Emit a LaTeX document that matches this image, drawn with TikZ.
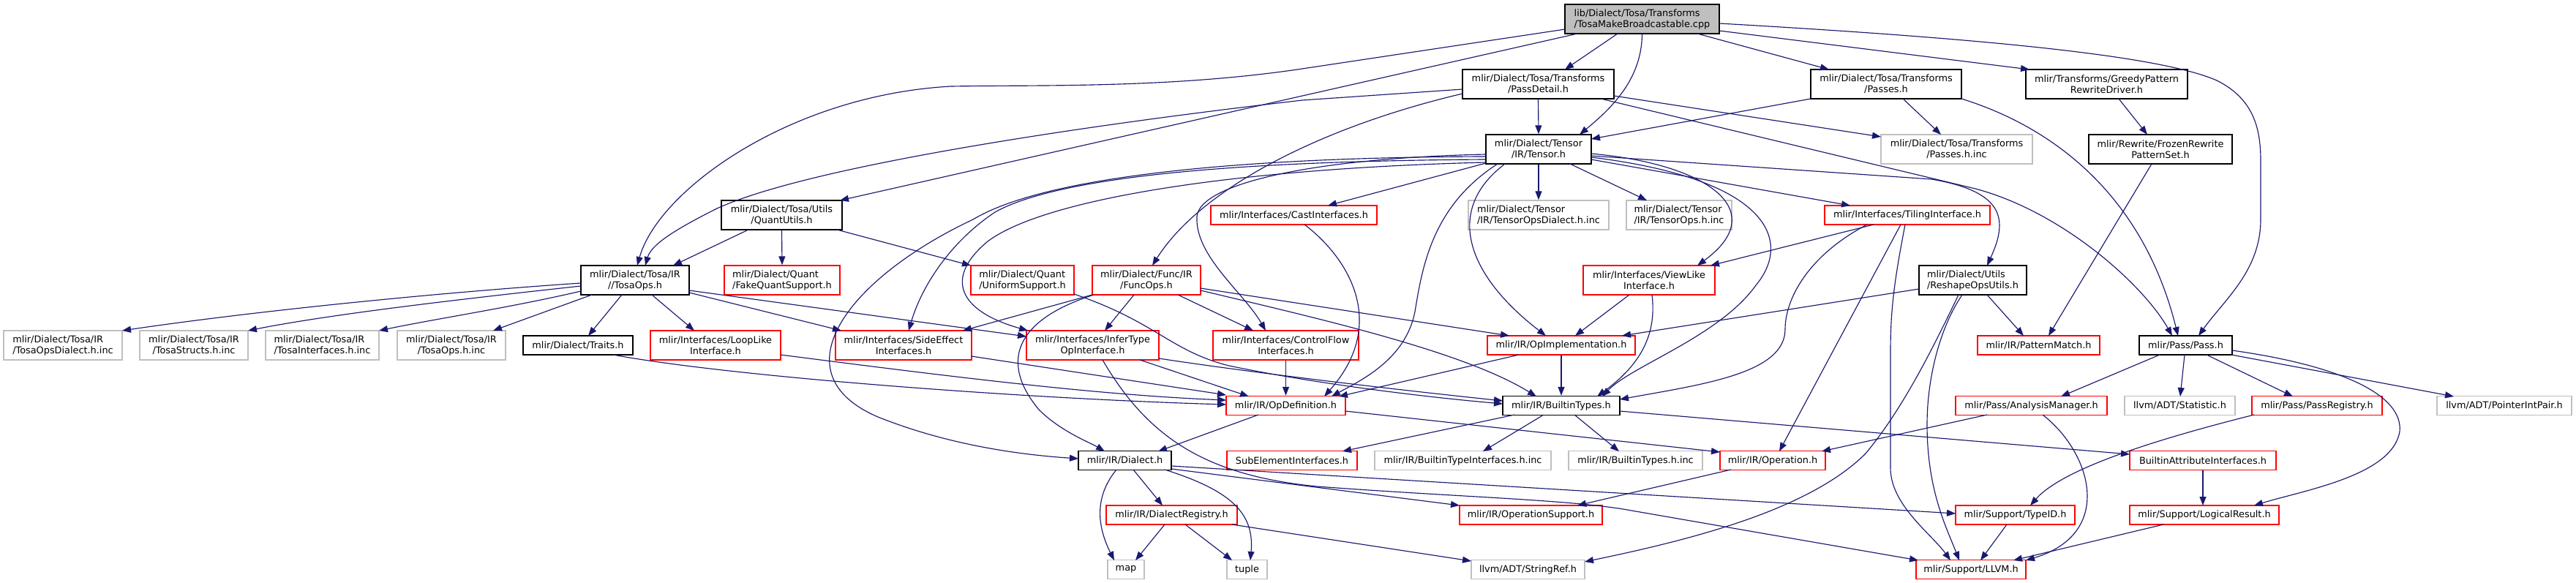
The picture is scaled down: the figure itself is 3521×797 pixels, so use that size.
\documentclass[tikz,border=0pt]{standalone}
\usepackage{fontspec}
\usetikzlibrary{arrows.meta,calc}
\newfontfamily\dfont{DejaVu Sans}
\definecolor{edgec}{HTML}{191970}
\definecolor{gbord}{HTML}{BFBFBF}
\definecolor{rbord}{HTML}{FF0000}
\tikzset{
  nd/.style={draw, line width=1.4pt, inner sep=0pt, minimum height=26pt, align=center,
    font={\dfont\fontsize{12.85pt}{15pt}\selectfont}},
  two/.style={minimum height=40pt},
  bn/.style={nd, draw=black},
  rn/.style={nd, draw=rbord},
  gn/.style={nd, draw=gbord},
  edg/.style={draw=edgec, line width=1.15pt, -{Triangle[length=12pt,width=9pt]}}
}
\begin{document}
\begin{tikzpicture}[x=1pt,y=-1pt]
\useasboundingbox (0,0) rectangle (3521,797);
% ---------- nodes ----------
\node[bn,two,fill=gbord,minimum width=211pt,align=left] (tmb) at (2244.5,26) {lib/Dialect/Tosa/Transforms\\/TosaMakeBroadcastable.cpp};
\node[bn,two,minimum width=207pt] (pdet) at (2102.5,115) {mlir/Dialect/Tosa/Transforms\\/PassDetail.h};
\node[bn,two,minimum width=206pt] (passes) at (2578,115) {mlir/Dialect/Tosa/Transforms\\/Passes.h};
\node[bn,two,minimum width=221pt] (greedy) at (2879.5,115) {mlir/Transforms/GreedyPattern\\RewriteDriver.h};
\node[bn,two,minimum width=144pt] (tensor) at (2103,204) {mlir/Dialect/Tensor\\/IR/Tensor.h};
\node[gn,two,minimum width=207pt] (passinc) at (2674.5,204) {mlir/Dialect/Tosa/Transforms\\/Passes.h.inc};
\node[bn,two,minimum width=196pt] (frozen) at (2953,204) {mlir/Rewrite/FrozenRewrite\\PatternSet.h};
\node[bn,two,minimum width=165pt] (quantutils) at (1068.5,294) {mlir/Dialect/Tosa/Utils\\/QuantUtils.h};
\node[rn,minimum width=227pt] (cast) at (1768.5,294) {mlir/Interfaces/CastInterfaces.h};
\node[gn,two,minimum width=192pt,align=left] (tdialinc) at (2103,294) {mlir/Dialect/Tensor\\/IR/TensorOpsDialect.h.inc};
\node[gn,two,minimum width=144pt,align=left] (topsinc) at (2295,294) {mlir/Dialect/Tensor\\/IR/TensorOps.h.inc};
\node[rn,minimum width=226pt] (tiling) at (2607,294) {mlir/Interfaces/TilingInterface.h};
\node[bn,two,minimum width=148pt] (tosaops) at (868,383) {mlir/Dialect/Tosa/IR\\//TosaOps.h};
\node[rn,two,minimum width=158pt,align=left] (fake) at (1069,383) {mlir/Dialect/Quant\\/FakeQuantSupport.h};
\node[rn,two,minimum width=141pt,align=left] (uniform) at (1397.5,383) {mlir/Dialect/Quant\\/UniformSupport.h};
\node[rn,two,minimum width=148pt] (funcops) at (1567,383) {mlir/Dialect/Func/IR\\/FuncOps.h};
\node[rn,two,minimum width=180pt] (viewlike) at (2254,383) {mlir/Interfaces/ViewLike\\Interface.h};
\node[bn,two,minimum width=147pt,align=left] (reshape) at (2696.5,383) {mlir/Dialect/Utils\\/ReshapeOpsUtils.h};
\node[gn,two,minimum width=162pt,align=left] (tdinc) at (86,472) {mlir/Dialect/Tosa/IR\\/TosaOpsDialect.h.inc};
\node[gn,two,minimum width=148pt] (tsinc) at (265,472) {mlir/Dialect/Tosa/IR\\/TosaStructs.h.inc};
\node[gn,two,minimum width=155pt,align=left] (tiinc) at (440.5,472) {mlir/Dialect/Tosa/IR\\/TosaInterfaces.h.inc};
\node[gn,two,minimum width=148pt] (toinc) at (617,472) {mlir/Dialect/Tosa/IR\\/TosaOps.h.inc};
\node[bn,minimum width=150pt] (traits) at (790,472) {mlir/Dialect/Traits.h};
\node[rn,two,minimum width=178pt] (looplike) at (978,472) {mlir/Interfaces/LoopLike\\Interface.h};
\node[rn,two,minimum width=186pt] (sideeff) at (1235,472) {mlir/Interfaces/SideEffect\\Interfaces.h};
\node[rn,two,minimum width=181pt] (infer) at (1493.5,472) {mlir/Interfaces/InferType\\OpInterface.h};
\node[rn,two,minimum width=199pt] (ctrlflow) at (1757.5,472) {mlir/Interfaces/ControlFlow\\Interfaces.h};
\node[rn,minimum width=202pt] (opimpl) at (2134,472) {mlir/IR/OpImplementation.h};
\node[rn,minimum width=167pt] (patmatch) at (2786.5,472) {mlir/IR/PatternMatch.h};
\node[bn,minimum width=127pt] (pass) at (2987.5,472) {mlir/Pass/Pass.h};
\node[rn,minimum width=163pt] (opdef) at (1757.5,554.5) {mlir/IR/OpDefinition.h};
\node[bn,minimum width=160pt] (btypes) at (2134,554.5) {mlir/IR/BuiltinTypes.h};
\node[rn,minimum width=207pt] (anmgr) at (2776.5,554.5) {mlir/Pass/AnalysisManager.h};
\node[gn,minimum width=151pt] (stat) at (2979.5,554.5) {llvm/ADT/Statistic.h};
\node[rn,minimum width=178pt] (passreg) at (3167,554.5) {mlir/Pass/PassRegistry.h};
\node[gn,minimum width=184pt] (ptrint) at (3423,554.5) {llvm/ADT/PointerIntPair.h};
\node[bn,minimum width=127pt] (dialect) at (1537.5,629.5) {mlir/IR/Dialect.h};
\node[rn,minimum width=178pt] (subelem) at (1766,629.5) {SubElementInterfaces.h};
\node[gn,minimum width=241pt] (btiinc) at (1999.5,629.5) {mlir/IR/BuiltinTypeInterfaces.h.inc};
\node[gn,minimum width=183pt] (btinc) at (2235.5,629.5) {mlir/IR/BuiltinTypes.h.inc};
\node[rn,minimum width=144pt] (operation) at (2423,629.5) {mlir/IR/Operation.h};
\node[rn,minimum width=200pt] (battr) at (3011,629.5) {BuiltinAttributeInterfaces.h};
\node[rn,minimum width=179pt] (dreg) at (1601.5,704) {mlir/IR/DialectRegistry.h};
\node[rn,minimum width=195pt] (opsupp) at (2092.5,704) {mlir/IR/OperationSupport.h};
\node[rn,minimum width=163pt] (typeid) at (2754.5,704) {mlir/Support/TypeID.h};
\node[rn,minimum width=204pt] (logres) at (3013,704) {mlir/Support/LogicalResult.h};
\node[gn,minimum width=50pt] (map) at (1539,778.5) {map};
\node[gn,minimum width=55pt] (tuple) at (1704.5,778.5) {tuple};
\node[gn,minimum width=155pt] (strref) at (2088.5,778.5) {llvm/ADT/StringRef.h};
\node[rn,minimum width=150pt] (llvm) at (2694,778.5) {mlir/Support/LLVM.h};
% ---------- edges ----------
% top file
\draw[edg] ($(tmb)+(-105.5,14)$) -- (1780,94) .. controls (1600,121) and (1420,116) .. (1300,118) .. controls (1080,130) and (900,260) .. ($(tosaops)+(3,-20)$);
\draw[edg] ($(tmb)+(-88.5,20)$) -- ($(quantutils)+(79.5,-20)$);
\draw[edg] ($(tmb)+(-33.5,20)$) -- ($(pdet)+(36.5,-20)$);
\draw[edg] (tmb.south) .. controls (2244,110) and (2200,150) .. ($(tensor)+(56,-20)$);
\draw[edg] ($(tmb)+(75.5,20)$) -- ($(passes)+(-78,-20)$);
\draw[edg] ($(tmb)+(105.5,16)$) -- ($(greedy)+(-105.5,-20)$);
\draw[edg] ($(tmb)+(105.5,6)$) .. controls (2700,52) and (2950,75) .. (3030,110) .. controls (3080,135) and (3090,175) .. (3090,220) -- (3090,300) .. controls (3090,370) and (3040,410) .. ($(pass)+(17.5,-13)$);
% PassDetail
\draw[edg] (pdet.south) -- (tensor.north);
\draw[edg] ($(pdet)+(-103.5,7)$) -- (1780,137) .. controls (1450,175) and (1100,230) .. (980,285) .. controls (920,315) and (890,335) .. ($(tosaops)+(14,-20)$);
\draw[edg] ($(pdet)+(-103.5,13)$) .. controls (1800,175) and (1640,260) .. ($(funcops)+(8,-20)$);
\draw[edg] ($(pdet)+(103.5,16)$) -- ($(passinc)+(-103.5,-17)$);
\draw[edg] ($(pdet)+(85.5,20)$) -- (2700,258) .. controls (2820,290) and (2930,390) .. ($(pass)+(-18.5,-13)$);
% Passes
\draw[edg] ($(passes)+(-103,20)$) -- ($(tensor)+(72,-14)$);
\draw[edg] ($(passes)+(23,20)$) -- ($(passinc)+(-21.5,-20)$);
\draw[edg] ($(passes)+(103,20)$) .. controls (2810,175) and (2930,270) .. ($(pass)+(-10.5,-13)$);
% Greedy / Frozen
\draw[edg] ($(greedy)+(16.5,20)$) -- ($(frozen)+(-18,-20)$);
\draw[edg] ($(frozen)+(-12,20)$) -- ($(patmatch)+(13.5,-13)$);
% Tensor
\draw[edg] (tensor.south) -- (tdialinc.north);
\draw[edg] ($(tensor)+(43,20)$) -- ($(topsinc)+(-44,-20)$);
\draw[edg] ($(tensor)+(-72,19)$) -- ($(cast)+(46.5,-13)$);
\draw[edg] ($(tensor)+(-56,20)$) .. controls (1960,280) and (1945,360) .. (1935,420) .. controls (1925,490) and (1860,520) .. ($(opdef)+(62.5,-12.5)$);
\draw[edg] ($(tensor)+(-46,20)$) .. controls (1970,290) and (2010,380) .. ($(opimpl)+(-21,-13)$);
\draw[edg] ($(tensor)+(-72,10)$) .. controls (1700,215) and (1430,240) .. (1330,300) .. controls (1160,380) and (1060,510) .. (1200,570) .. controls (1300,610) and (1400,622) .. ($(dialect)+(-63.5,-2.5)$);
\draw[edg] ($(tensor)+(-72,14)$) .. controls (1700,220) and (1450,240) .. (1360,290) .. controls (1300,330) and (1260,390) .. ($(sideeff)+(7,-20)$);
\draw[edg] ($(tensor)+(-72,18)$) .. controls (1700,230) and (1430,270) .. (1350,330) .. controls (1290,380) and (1310,425) .. ($(infer)+(-88.5,-20)$);
\draw[edg] ($(tensor)+(-72,7)$) .. controls (1800,216) and (1640,250) .. (1636,296) .. controls (1633,350) and (1700,400) .. ($(ctrlflow)+(-27.5,-20)$);
\draw[edg] ($(tensor)+(72,9)$) -- (2640,245) .. controls (2740,262) and (2745,300) .. ($(reshape)+(19.5,-20)$);
\draw[edg] ($(tensor)+(72,6)$) .. controls (2340,225) and (2420,290) .. ($(viewlike)+(66,-20)$);
\draw[edg] ($(tensor)+(72,11)$) .. controls (2420,245) and (2450,330) .. (2400,390) .. controls (2350,460) and (2230,500) .. ($(btypes)+(56,-12.5)$);
\draw[edg] ($(tensor)+(72,14)$) -- ($(tiling)+(-78,-13)$);
% QuantUtils
\draw[edg] ($(quantutils)+(-45.5,20)$) -- ($(tosaops)+(52,-20)$);
\draw[edg] (quantutils.south) -- (fake.north);
\draw[edg] ($(quantutils)+(75.5,20)$) -- ($(uniform)+(-70.5,-20)$);
% TosaOps
\draw[edg] ($(tosaops)+(-74,4)$) .. controls (600,400) and (350,425) .. ($(tdinc)+(81,-20)$);
\draw[edg] ($(tosaops)+(-74,8)$) .. controls (620,410) and (450,430) .. ($(tsinc)+(74,-20)$);
\draw[edg] ($(tosaops)+(-74,15)$) .. controls (700,420) and (600,435) .. ($(tiinc)+(77.5,-20)$);
\draw[edg] ($(tosaops)+(-59,20)$) -- ($(toinc)+(57,-20)$);
\draw[edg] ($(tosaops)+(-18,20)$) -- ($(traits)+(14,-13)$);
\draw[edg] ($(tosaops)+(23,20)$) -- ($(looplike)+(-29,-20)$);
\draw[edg] ($(tosaops)+(74,17)$) -- ($(sideeff)+(-85,-20)$);
\draw[edg] ($(tosaops)+(74,14)$) -- ($(infer)+(-90.5,-12)$);
% into OpDefinition
\draw[edg] ($(traits)+(48,13)$) .. controls (1000,515) and (1400,545) .. ($(opdef)+(-81.5,-1.5)$);
\draw[edg] ($(looplike)+(89,13)$) .. controls (1300,515) and (1500,540) .. ($(opdef)+(-81.5,-7.5)$);
\draw[edg] ($(sideeff)+(93,15)$) -- ($(opdef)+(-81.5,-14.5)$);
\draw[edg] ($(infer)+(64.5,20)$) -- ($(opdef)+(-50.5,-12.5)$);
\draw[edg] ($(infer)+(90.5,18)$) .. controls (1750,515) and (1950,537) .. ($(btypes)+(-80,-6.5)$);
\draw[edg] ($(infer)+(13.5,20)$) .. controls (1570,600) and (1650,650) .. (1800,665) .. controls (2000,680) and (2150,683) .. (2230,698) -- ($(llvm)+(-72,-12.5)$);
% FuncOps
\draw[edg] ($(funcops)+(-74,20)$) -- ($(sideeff)+(81,-20)$);
\draw[edg] ($(funcops)+(-72,20)$) .. controls (1380,440) and (1370,500) .. (1420,560) .. controls (1450,590) and (1490,605) .. ($(dialect)+(-27.5,-12.5)$);
\draw[edg] ($(funcops)+(-17,20)$) -- ($(infer)+(16.5,-20)$);
\draw[edg] ($(funcops)+(43,20)$) -- ($(ctrlflow)+(-44.5,-20)$);
\draw[edg] ($(funcops)+(74,11)$) -- ($(opimpl)+(-71,-13)$);
\draw[edg] ($(funcops)+(74,14)$) .. controls (1800,435) and (2000,480) .. ($(btypes)+(-34,-12.5)$);
% UniformSupport
\draw[edg] ($(uniform)+(70.5,19)$) .. controls (1580,440) and (1600,480) .. (1680,500) .. controls (1800,525) and (1950,543) .. ($(btypes)+(-80,-2.5)$);
% Cast, ControlFlow, OpImplementation, ViewLike
\draw[edg] ($(cast)+(14.5,13)$) .. controls (1840,350) and (1900,440) .. ($(opdef)+(52.5,-12.5)$);
\draw[edg] (ctrlflow.south) -- (opdef.north);
\draw[edg] ($(opimpl)+(-58,13)$) -- ($(opdef)+(72.5,-12.5)$);
\draw[edg] (opimpl.south) -- (btypes.north);
\draw[edg] ($(viewlike)+(-27,20)$) -- ($(opimpl)+(19,-13)$);
\draw[edg] ($(viewlike)+(4,20)$) .. controls (2265,460) and (2240,500) .. ($(btypes)+(49,-12.5)$);
% Tiling
\draw[edg] ($(tiling)+(-46,13)$) -- ($(viewlike)+(84,-20)$);
\draw[edg] ($(tiling)+(-55,13)$) .. controls (2470,350) and (2440,410) .. (2440,450) .. controls (2440,510) and (2330,525) .. ($(btypes)+(80,-8.5)$);
\draw[edg] ($(tiling)+(-9,13)$) -- ($(operation)+(9,-12.5)$);
\draw[edg] ($(tiling)+(-3,13)$) .. controls (2590,380) and (2584,420) .. (2584,480) -- (2584,640) .. controls (2584,690) and (2640,730) .. ($(llvm)+(-28,-12.5)$);
% ReshapeOpsUtils
\draw[edg] ($(reshape)+(-73.5,12)$) -- ($(opimpl)+(83,-13)$);
\draw[edg] ($(reshape)+(19.5,20)$) -- ($(patmatch)+(-20.5,-13)$);
\draw[edg] ($(reshape)+(-14.5,20)$) .. controls (2650,450) and (2634,520) .. (2634,580) .. controls (2634,670) and (2660,720) .. ($(llvm)+(-16,-12.5)$);
\draw[edg] ($(reshape)+(-19.5,20)$) .. controls (2640,480) and (2600,560) .. (2550,620) .. controls (2470,700) and (2300,740) .. ($(strref)+(77.5,-10.5)$);
% OpDefinition, BuiltinTypes
\draw[edg] ($(opdef)+(-37.5,12.5)$) -- ($(dialect)+(45.5,-12.5)$);
\draw[edg] ($(opdef)+(81.5,7.5)$) -- ($(operation)+(-72,-11.5)$);
\draw[edg] ($(btypes)+(-64,12.5)$) -- ($(subelem)+(69,-12.5)$);
\draw[edg] ($(btypes)+(-24,12.5)$) -- ($(btiinc)+(27.5,-12.5)$);
\draw[edg] ($(btypes)+(18,12.5)$) -- ($(btinc)+(-22.5,-12.5)$);
\draw[edg] ($(btypes)+(80,7.5)$) -- ($(battr)+(-100,-8.5)$);
% Dialect
\draw[edg] ($(dialect)+(-11.5,12.5)$) .. controls (1495,680) and (1500,720) .. ($(map)+(-16,-12.5)$);
\draw[edg] ($(dialect)+(11.5,12.5)$) -- ($(dreg)+(-12.5,-13)$);
\draw[edg] ($(dialect)+(54.5,12.5)$) .. controls (1680,670) and (1715,700) .. ($(tuple)+(4.5,-12.5)$);
\draw[edg] ($(dialect)+(63.5,11.5)$) -- ($(opsupp)+(-97.5,-13)$);
\draw[edg] ($(dialect)+(63.5,7.5)$) -- ($(typeid)+(-81.5,-2)$);
% DialectRegistry
\draw[edg] ($(dreg)+(-9.5,13)$) -- ($(map)+(13,-12.5)$);
\draw[edg] ($(dreg)+(18.5,13)$) -- ($(tuple)+(-20.5,-12.5)$);
\draw[edg] ($(dreg)+(82.5,13)$) -- ($(strref)+(-77.5,-11.5)$);
% Operation, AnalysisManager
\draw[edg] ($(operation)+(-57,12.5)$) -- ($(opsupp)+(63.5,-13)$);
\draw[edg] ($(anmgr)+(-60.5,12.5)$) -- ($(operation)+(67,-12.5)$);
\draw[edg] ($(anmgr)+(15.5,12.5)$) .. controls (2860,620) and (2890,730) .. ($(llvm)+(75,-12.5)$);
% Pass
\draw[edg] ($(pass)+(-35.5,13)$) -- ($(anmgr)+(40.5,-12.5)$);
\draw[edg] ($(pass)+(-1.5,13)$) -- ($(stat)+(0.5,-12.5)$);
\draw[edg] ($(pass)+(28.5,13)$) -- ($(passreg)+(-33,-12.5)$);
\draw[edg] ($(pass)+(62.5,13)$) -- ($(ptrint)+(-69,-12.5)$);
\draw[edg] ($(pass)+(63.5,7)$) .. controls (3200,500) and (3285,540) .. (3280,590) .. controls (3270,650) and (3150,670) .. ($(logres)+(68,-13)$);
\draw[edg] ($(passreg)+(-86,12.5)$) .. controls (2950,600) and (2820,640) .. ($(typeid)+(20.5,-13)$);
% bottom
\draw[edg] (battr.south) -- ($(logres)+(-2,-13)$);
\draw[edg] ($(typeid)+(-11.5,13)$) -- ($(llvm)+(13,-12.5)$);
\draw[edg] ($(logres)+(-56,13)$) -- ($(llvm)+(58,-12.5)$);
\end{tikzpicture}
\end{document}
